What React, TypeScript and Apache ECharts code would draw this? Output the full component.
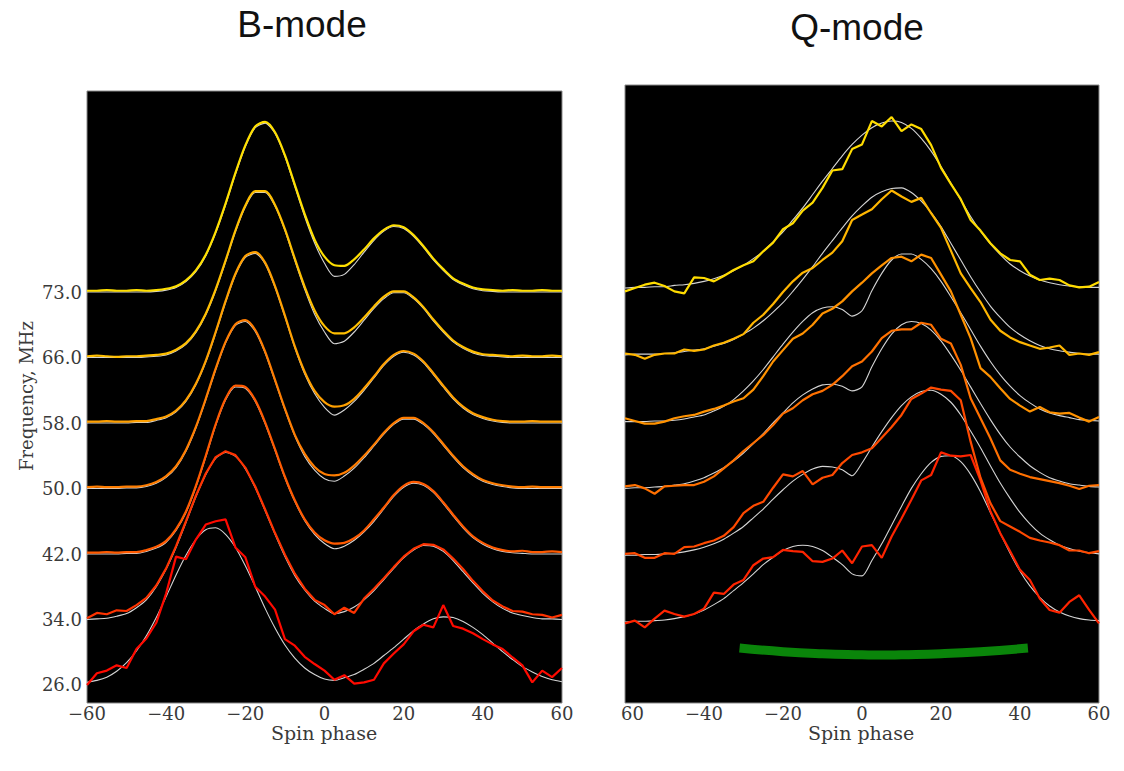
import React, { useEffect, useRef } from "react";
import * as echarts from "echarts";

// Spin phase grid (degrees)
const PHASE = [-60, -57.5, -55, -52.5, -50, -47.5, -45, -42.5, -40, -37.5, -35, -32.5, -30, -27.5, -25, -22.5, -20, -17.5, -15, -12.5, -10, -7.5, -5, -2.5, 0, 2.5, 5, 7.5, 10, 12.5, 15, 17.5, 20, 22.5, 25, 27.5, 30, 32.5, 35, 37.5, 40, 42.5, 45, 47.5, 50, 52.5, 55, 57.5, 60];

// ---------- B-mode (left panel), frequencies bottom -> top ----------
const B_FREQ_LABELS = ["26.0", "34.0", "42.0", "50.0", "58.0", "66.0", "73.0"];

const B_DATA_26 = [0, .18, .22, .30, .26, .55, .71, .95, 1.40, 1.96, 1.92, 2.22, 2.45, 2.50, 2.53, 2.10, 1.95, 1.50, 1.35, 1.15, .70, .60, .43, .32, .22, .08, .15, .02, .04, .08, .33, .48, .62, .82, .92, .88, 1.22, .90, .86, .79, .70, .62, .55, .42, .30, .04, .22, .12, .26];
const B_FIT_26 = [.04, .07, .12, .21, .34, .52, .75, 1.03, 1.35, 1.68, 1.98, 2.22, 2.37, 2.40, 2.30, 2.10, 1.82, 1.50, 1.17, .87, .61, .41, .26, .16, .09, .07, .11, .16, .24, .33, .45, .57, .70, .83, .93, 1.01, 1.04, 1.03, .97, .88, .77, .64, .51, .39, .28, .20, .13, .08, .05];

const B_DATA_34 = [.02, .10, .08, .14, .13, .22, .33, .52, .78, 1.12, 1.50, 1.89, 2.23, 2.48, 2.57, 2.51, 2.32, 2.03, 1.68, 1.32, .99, .70, .47, .30, .22, .08, .18, .10, .32, .47, .63, .80, .96, 1.08, 1.15, 1.14, 1.07, .93, .77, .59, .43, .29, .20, .13, .12, .08, .07, .03, .07];
const B_FIT_34 = [0, .01, .02, .05, .09, .18, .30, .50, .77, 1.10, 1.48, 1.87, 2.21, 2.46, 2.55, 2.49, 2.30, 2.01, 1.66, 1.30, .96, .67, .45, .28, .17, .09, .12, .19, .30, .44, .61, .78, .94, 1.06, 1.13, 1.12, 1.04, .90, .73, .56, .40, .27, .17, .10, .06, .03, .01, .01, 0];

const B_DATA_42 = [.02, .02, .03, .02, .03, .03, .06, .11, .20, .38, .65, 1.04, 1.50, 1.98, 2.37, 2.57, 2.55, 2.35, 2.01, 1.60, 1.18, .82, .53, .33, .21, .16, .17, .24, .36, .53, .71, .90, 1.04, 1.10, 1.07, .96, .79, .60, .42, .27, .17, .10, .06, .04, .05, .03, .03, .04, .03];
const B_FIT_42 = [0, 0, 0, 0, .01, .01, .04, .09, .18, .36, .63, 1.02, 1.48, 1.96, 2.35, 2.55, 2.53, 2.33, 1.99, 1.58, 1.16, .80, .51, .30, .16, .08, .12, .21, .34, .50, .69, .88, 1.02, 1.08, 1.05, .94, .77, .58, .40, .25, .15, .08, .04, .02, .01, 0, 0, 0, 0];

const B_DATA_50 = [.02, .03, .02, .02, .03, .03, .05, .10, .19, .34, .59, .94, 1.37, 1.83, 2.24, 2.51, 2.57, 2.42, 2.09, 1.66, 1.22, .82, .53, .33, .22, .20, .24, .35, .50, .67, .85, 1.00, 1.08, 1.08, 1.00, .86, .68, .50, .34, .22, .13, .08, .05, .03, .02, .03, .02, .02, .02];
const B_FIT_50 = [0, 0, 0, 0, .01, .01, .03, .08, .17, .32, .57, .92, 1.35, 1.81, 2.22, 2.49, 2.55, 2.40, 2.07, 1.64, 1.20, .80, .49, .28, .15, .11, .19, .31, .47, .65, .83, .98, 1.06, 1.06, .98, .84, .66, .48, .32, .20, .11, .06, .03, .01, 0, 0, 0, 0, 0];

const B_DATA_58 = [.02, .02, .03, .02, .02, .03, .03, .06, .10, .19, .35, .60, .95, 1.39, 1.86, 2.28, 2.55, 2.61, 2.45, 2.09, 1.64, 1.17, .78, .49, .32, .25, .27, .37, .53, .71, .90, 1.04, 1.10, 1.06, .94, .76, .57, .39, .25, .15, .09, .05, .03, .02, .02, .03, .02, .02, .02];
const B_FIT_58 = [0, 0, 0, 0, 0, .01, .01, .04, .08, .17, .33, .58, .93, 1.37, 1.84, 2.26, 2.53, 2.59, 2.43, 2.07, 1.62, 1.15, .75, .45, .24, .12, .20, .33, .50, .69, .88, 1.02, 1.08, 1.04, .92, .74, .55, .37, .23, .13, .07, .03, .01, 0, 0, 0, 0, 0, 0];

const B_DATA_66 = [.02, .03, .02, .01, .02, .02, .03, .04, .06, .12, .22, .40, .67, 1.04, 1.48, 1.94, 2.32, 2.54, 2.54, 2.33, 1.96, 1.51, 1.08, .72, .48, .37, .37, .46, .61, .78, .93, 1.01, 1.01, .92, .77, .58, .41, .26, .16, .09, .05, .04, .03, .02, .03, .02, .02, .03, .02];
const B_FIT_66 = [0, 0, 0, 0, 0, 0, .01, .02, .04, .10, .20, .38, .65, 1.02, 1.46, 1.92, 2.30, 2.52, 2.52, 2.31, 1.94, 1.48, 1.04, .66, .39, .21, .25, .39, .57, .75, .90, .99, .99, .90, .75, .56, .39, .24, .14, .07, .03, .02, .01, 0, 0, 0, 0, 0, 0];

const B_DATA_73 = [.02, .02, .03, .02, .02, .03, .02, .03, .05, .09, .18, .33, .57, .92, 1.35, 1.82, 2.24, 2.53, 2.60, 2.44, 2.09, 1.64, 1.19, .80, .54, .41, .40, .50, .65, .82, .95, 1.02, .99, .87, .70, .51, .35, .21, .13, .07, .04, .03, .02, .03, .02, .02, .03, .02, .02];
const B_FIT_73 = [0, 0, 0, 0, 0, 0, 0, .01, .03, .07, .16, .31, .55, .90, 1.33, 1.80, 2.22, 2.51, 2.58, 2.42, 2.07, 1.61, 1.15, .75, .44, .24, .27, .42, .61, .79, .93, 1.0, .97, .85, .68, .49, .33, .19, .11, .05, .02, .01, 0, 0, 0, 0, 0, 0, 0];

const B_DATA = [B_DATA_26, B_DATA_34, B_DATA_42, B_DATA_50, B_DATA_58, B_DATA_66, B_DATA_73];
const B_FIT = [B_FIT_26, B_FIT_34, B_FIT_42, B_FIT_50, B_FIT_58, B_FIT_66, B_FIT_73];
const B_COLORS = ["#ff0a00", "#ff3300", "#ff5a00", "#ff7d00", "#ffa000", "#ffbf00", "#ffdf00"];

// ---------- Q-mode (right panel), bottom -> top ----------
const Q_DATA_0 = [-.02, .02, -.08, .05, .17, .12, .08, .12, .20, .44, .42, .56, .63, .85, .95, .97, 1.08, 1.06, 1.05, .91, .90, .95, 1.07, .88, 1.13, 1.15, .96, 1.28, 1.55, 1.83, 2.12, 2.20, 2.54, 2.49, 2.48, 2.50, 2.12, 1.66, 1.33, 1.06, .78, .63, .35, .18, .14, .30, .40, .18, -.02];
const Q_FIT_0 = [0, .01, .01, .02, .03, .05, .08, .12, .18, .26, .35, .47, .59, .72, .86, .97, 1.07, 1.13, 1.15, 1.13, 1.07, .97, .86, .72, .69, .92, 1.17, 1.45, 1.73, 2.00, 2.22, 2.39, 2.48, 2.49, 2.40, 2.21, 1.95, 1.64, 1.33, 1.03, .76, .54, .37, .24, .15, .09, .05, .03, .02];

const Q_DATA_1 = [.02, .03, -.04, -.04, .03, .02, .12, .13, .18, .22, .29, .42, .63, .74, .80, 1.01, 1.21, 1.18, 1.26, 1.06, 1.16, 1.20, 1.38, 1.50, 1.54, 1.60, 1.76, 1.92, 2.10, 2.34, 2.42, 2.51, 2.48, 2.46, 2.32, 1.70, 1.16, .78, .51, .43, .35, .26, .22, .19, .15, .07, .07, .03, .06];
const Q_FIT_1 = [0, 0, .01, .01, .02, .03, .05, .08, .12, .17, .24, .33, .43, .56, .69, .84, .98, 1.11, 1.21, 1.29, 1.33, 1.32, 1.28, 1.19, 1.38, 1.62, 1.85, 2.06, 2.24, 2.37, 2.45, 2.47, 2.41, 2.29, 2.10, 1.86, 1.61, 1.34, 1.08, .85, .64, .47, .33, .23, .15, .10, .06, .04, .02];

const Q_DATA_2 = [.03, .05, 0, -.08, .03, .04, .05, .05, .10, .18, .30, .42, .56, .68, .80, .95, 1.12, 1.20, 1.32, 1.41, 1.46, 1.55, 1.68, 1.83, 1.90, 2.05, 2.25, 2.36, 2.38, 2.38, 2.48, 2.45, 2.24, 2.17, 1.85, 1.35, 1.05, .75, .42, .28, .22, .17, .14, .11, .08, .04, -.01, .04, .05];
const Q_FIT_2 = [0, .01, .01, .02, .03, .05, .07, .11, .16, .23, .31, .41, .53, .67, .82, .98, 1.13, 1.28, 1.40, 1.49, 1.55, 1.56, 1.53, 1.46, 1.52, 1.82, 2.09, 2.31, 2.45, 2.50, 2.47, 2.37, 2.21, 2.00, 1.77, 1.52, 1.27, 1.03, .81, .62, .47, .34, .24, .16, .11, .07, .05, .03, .02];

const Q_DATA_3 = [.05, .01, -.03, -.03, 0, .05, .08, .10, .15, .19, .24, .30, .35, .48, .68, .90, 1.07, 1.24, 1.32, 1.45, 1.62, 1.69, 1.80, 1.95, 2.08, 2.22, 2.34, 2.45, 2.47, 2.40, 2.50, 2.45, 2.20, 1.95, 1.60, 1.25, .80, .67, .50, .34, .24, .15, .22, .14, .12, .13, .06, 0, .07];
const Q_FIT_3 = [0, 0, 0, .01, .01, .02, .04, .07, .10, .16, .23, .33, .46, .61, .78, .97, 1.16, 1.34, 1.50, 1.63, 1.70, 1.72, 1.68, 1.58, 1.66, 1.96, 2.22, 2.42, 2.51, 2.51, 2.43, 2.29, 2.10, 1.87, 1.63, 1.38, 1.13, .90, .70, .53, .39, .28, .19, .13, .09, .06, .03, .02, .01];

const Q_DATA_4 = [.02, 0, -.06, 0, .02, .02, .08, .06, .08, .14, .18, .24, .31, .48, .60, .76, .94, 1.10, 1.23, 1.30, 1.42, 1.53, 1.70, 2.02, 2.10, 2.18, 2.33, 2.46, 2.37, 2.29, 2.35, 2.12, 1.90, 1.56, 1.22, 1.0, .79, .53, .36, .26, .19, .14, .09, .11, .14, 0, .02, 0, .04];
const Q_FIT_4 = [0, .01, .01, .01, .02, .03, .05, .07, .09, .13, .17, .23, .31, .40, .51, .64, .78, .95, 1.13, 1.32, 1.52, 1.71, 1.90, 2.08, 2.23, 2.36, 2.44, 2.49, 2.50, 2.43, 2.30, 2.13, 1.92, 1.67, 1.42, 1.17, .94, .73, .56, .41, .30, .21, .14, .09, .06, .04, .02, .01, .01];

const Q_DATA_5 = [-.05, 0, .05, .08, .03, -.05, -.08, .16, .15, .10, .18, .27, .34, .40, .55, .68, .88, .97, 1.16, 1.28, 1.50, 1.76, 1.78, 2.08, 2.15, 2.50, 2.42, 2.56, 2.35, 2.45, 2.38, 2.14, 1.80, 1.56, 1.33, 1.02, .86, .67, .52, .42, .40, .20, .12, .14, .12, .04, .01, .02, .09];
const Q_FIT_5 = [0, .01, .01, .02, .02, .04, .05, .07, .10, .14, .19, .26, .34, .44, .55, .69, .84, 1.02, 1.20, 1.40, 1.60, 1.79, 1.98, 2.15, 2.29, 2.40, 2.47, 2.50, 2.48, 2.39, 2.24, 2.05, 1.82, 1.57, 1.32, 1.07, .85, .66, .50, .36, .26, .18, .12, .08, .05, .03, .02, .01, .01];

const Q_DATA = [Q_DATA_0, Q_DATA_1, Q_DATA_2, Q_DATA_3, Q_DATA_4, Q_DATA_5];
const Q_FIT = [Q_FIT_0, Q_FIT_1, Q_FIT_2, Q_FIT_3, Q_FIT_4, Q_FIT_5];
const Q_COLORS = ["#ff2400", "#ff4a00", "#ff7000", "#ff9200", "#ffb600", "#ffdc00"];

// Green arc under Q-mode profiles
const GREEN_PHASE = [-31, -20, -10, 0, 5, 10, 20, 30, 42];
const GREEN_LEVEL = [-0.39, -0.445, -0.475, -0.49, -0.495, -0.49, -0.475, -0.445, -0.39];

const TICK_FONT = "DejaVu Serif";
const fmtPhase = (v: number) => (v < 0 ? "\u2212" + Math.abs(v) : String(v));

function profileSeries(data: number[][], fit: number[][], colors: string[], axisIndex: number, smoothData: (i: number) => boolean) {
  const out: any[] = [];
  data.forEach((vals, i) => {
    out.push({
      type: "line",
      xAxisIndex: axisIndex,
      yAxisIndex: axisIndex,
      data: fit[i].map((v, k) => [PHASE[k], i + v]),
      showSymbol: false,
      symbol: "none",
      smooth: 0.25,
      silent: true,
      lineStyle: { color: "#d4d4d4", width: 1.1 },
    });
    out.push({
      type: "line",
      xAxisIndex: axisIndex,
      yAxisIndex: axisIndex,
      data: vals.map((v, k) => [PHASE[k], i + v]),
      showSymbol: false,
      symbol: "none",
      smooth: smoothData(i) ? 0.3 : false,
      silent: true,
      lineStyle: { color: colors[i], width: 2.2 },
    });
  });
  return out;
}

export default function App() {
  const ref = useRef<HTMLDivElement>(null);

  useEffect(() => {
    if (!ref.current) return;
    const chart = echarts.init(ref.current, undefined, { renderer: "svg" });

    const xAxisCommon = {
      type: "value",
      min: -60,
      max: 60,
      interval: 20,
      axisLine: { show: false },
      axisTick: { show: false },
      splitLine: { show: false },
      axisLabel: { fontFamily: TICK_FONT, fontSize: 18, color: "#3a3a3a", margin: 1, formatter: fmtPhase },
    };

    const series: any[] = [
      ...profileSeries(B_DATA, B_FIT, B_COLORS, 0, (i) => i >= 2),
      ...profileSeries(Q_DATA, Q_FIT, Q_COLORS, 1, () => false),
      {
        type: "line",
        xAxisIndex: 1,
        yAxisIndex: 1,
        data: GREEN_PHASE.map((p, k) => [p, GREEN_LEVEL[k]]),
        showSymbol: false,
        symbol: "none",
        smooth: true,
        silent: true,
        lineStyle: { color: "#0a850a", width: 9, cap: "butt" },
      },
    ];

    chart.setOption({
      animation: false,
      backgroundColor: "#ffffff",
      grid: [
        { left: 87, top: 91, width: 475, height: 612, show: true, backgroundColor: "#000000", borderColor: "#8a8a8a", borderWidth: 1 },
        { left: 625, top: 85, width: 474, height: 618, show: true, backgroundColor: "#000000", borderColor: "#8a8a8a", borderWidth: 1 },
      ],
      xAxis: [
        { ...xAxisCommon, gridIndex: 0 },
        { ...xAxisCommon, gridIndex: 1 },
      ],
      yAxis: [
        {
          gridIndex: 0,
          type: "value",
          min: -0.275,
          max: 9.07,
          axisLine: { show: false },
          axisTick: { show: false },
          splitLine: { show: false },
          axisLabel: {
            customValues: [0, 1, 2, 3, 4, 5, 6],
            fontFamily: TICK_FONT,
            fontSize: 18,
            color: "#3a3a3a",
            margin: 5,
            formatter: (v: number) => B_FREQ_LABELS[Math.round(v)] ?? "",
          },
        },
        { gridIndex: 1, type: "value", min: -1.213, max: 8.04, show: false },
      ],
      graphic: [
        { type: "text", x: 302, y: 24, style: { text: "B-mode", font: "37px 'Liberation Sans', Arial, sans-serif", fill: "#111", align: "center", verticalAlign: "middle" } },
        { type: "text", x: 857, y: 27, style: { text: "Q-mode", font: "37px 'Liberation Sans', Arial, sans-serif", fill: "#111", align: "center", verticalAlign: "middle" } },
        { type: "text", x: 324, y: 733, style: { text: "Spin phase", font: "19px 'DejaVu Serif', serif", fill: "#3a3a3a", align: "center", verticalAlign: "middle" } },
        { type: "text", x: 861, y: 733, style: { text: "Spin phase", font: "19px 'DejaVu Serif', serif", fill: "#3a3a3a", align: "center", verticalAlign: "middle" } },
        { type: "text", x: 26, y: 396, rotation: Math.PI / 2, style: { text: "Frequency, MHz", font: "18px 'DejaVu Serif', serif", fill: "#3a3a3a", align: "center", verticalAlign: "middle" } },
        { type: "rect", z: 100, shape: { x: 596, y: 704, width: 25, height: 22 }, style: { fill: "#ffffff" } },
      ],
      series,
    });

    return () => chart.dispose();
  }, []);

  return <div ref={ref} style={{ position: "fixed", left: 0, top: 0, width: 1124, height: 771 }} />;
}
